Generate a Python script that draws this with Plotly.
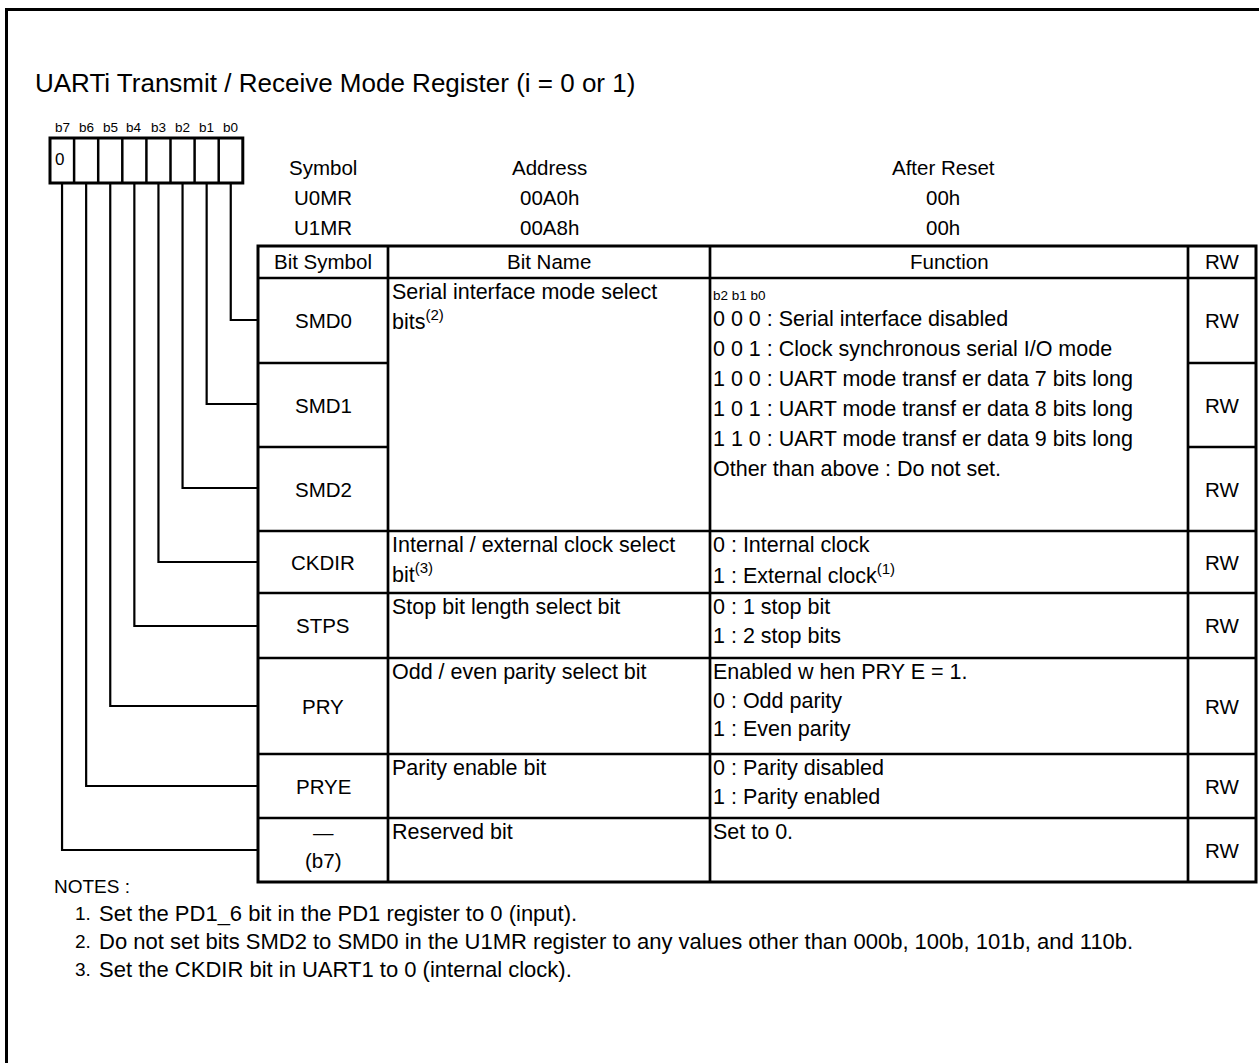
import plotly.graph_objects as go

# ---------------- data ----------------
title = "UARTi Transmit / Receive Mode Register (i = 0 or 1)"
bit_labels = ["b7", "b6", "b5", "b4", "b3", "b2", "b1", "b0"]
bit_values = ["0", "", "", "", "", "", "", ""]

reg_header = ["Symbol", "Address", "After Reset"]
reg_symbols = ["U0MR", "U1MR"]
reg_addresses = ["00A0h", "00A8h"]
reg_resets = ["00h", "00h"]

table_header = ["Bit Symbol", "Bit Name", "Function", "RW"]
bit_symbols = [["SMD0"], ["SMD1"], ["SMD2"], ["CKDIR"], ["STPS"], ["PRY"], ["PRYE"], ["\u2014", "(b7)"]]
rw = ["RW", "RW", "RW", "RW", "RW", "RW", "RW", "RW"]

# groups of rows sharing the Bit Name / Function cells (first row, row count)
groups = [(0, 3), (3, 1), (4, 1), (5, 1), (6, 1), (7, 1)]
bit_names = [
    ["Serial interface mode select", "bits<sup>(2)</sup>"],
    ["Internal / external clock select", "bit<sup>(3)</sup>"],
    ["Stop bit length select bit"],
    ["Odd / even parity select bit"],
    ["Parity enable bit"],
    ["Reserved bit"],
]
function_caption = ["b2 b1 b0", "", "", "", "", ""]
functions = [
    ["0 0 0 : Serial interface disabled",
     "0 0 1 : Clock synchronous serial I/O mode",
     "1 0 0 : UART mode transf er data 7 bits long",
     "1 0 1 : UART mode transf er data 8 bits long",
     "1 1 0 : UART mode transf er data 9 bits long",
     "Other than above : Do not set."],
    ["0 : Internal clock", "1 : External clock<sup>(1)</sup>"],
    ["0 : 1 stop bit", "1 : 2 stop bits"],
    ["Enabled w hen PRY E = 1.", "0 : Odd parity", "1 : Even parity"],
    ["0 : Parity disabled", "1 : Parity enabled"],
    ["Set to 0."],
]

notes_title = "NOTES :"
notes = [
    "Set the PD1_6 bit in the PD1 register to 0 (input).",
    "Do not set bits SMD2 to SMD0 in the U1MR register to any values other than 000b, 100b, 101b, and 110b.",
    "Set the CKDIR bit in UART1 to 0 (internal clock).",
]

# ---------------- geometry / style ----------------
W, H = 1259, 1063
FONT = "Liberation Sans, Arial, sans-serif"
BLACK = "#000000"
HDR = 20.5   # header / symbol texts
BODY = 21.5  # bit name / function texts

box_x0, box_w, box_y0, box_y1 = 50, 24.1, 138, 183
col_x = [258, 388, 710, 1188, 1256]
row_y = [278, 363, 447, 531, 593, 658, 754, 818, 882]
head_y0 = 246
conn_y = [320, 404, 488, 562, 626, 706, 786, 850]

shapes = []
ann = []


def line(x0, y0, x1, y1, w=2.5):
    shapes.append(dict(type="line", xref="x", yref="y", x0=x0, y0=y0, x1=x1, y1=y1,
                       line=dict(color=BLACK, width=w)))


def text(x, y, s, size=HDR, anchor="left"):
    ann.append(dict(x=x, y=y, xref="x", yref="y", text=s, showarrow=False,
                    xanchor=anchor, yanchor="middle",
                    font=dict(family=FONT, size=size, color=BLACK)))


# outer frame (top + left)
shapes.append(dict(type="path", xref="x", yref="y", path=f"M 6.5,{H} L 6.5,9.5 L {W},9.5",
                   line=dict(color=BLACK, width=3)))

# title
text(33, 83, title, size=26)

# bit boxes
nb = len(bit_labels)
shapes.append(dict(type="rect", xref="x", yref="y", x0=box_x0, x1=box_x0 + nb * box_w,
                   y0=box_y0, y1=box_y1, line=dict(color=BLACK, width=3)))
for i in range(1, nb):
    line(box_x0 + i * box_w, box_y0, box_x0 + i * box_w, box_y1, w=2.5)
for i, lab in enumerate(bit_labels):
    cx = box_x0 + (i + 0.5) * box_w
    text(cx, 127, lab, size=13.5, anchor="center")
    if bit_values[i]:
        text(box_x0 + 3, 159, bit_values[i], size=17)

# connectors: bit b0 -> first row, etc.
for k in range(nb):
    bit_index = nb - 1 - k  # b0 is the last box
    cx = box_x0 + (bit_index + 0.5) * box_w
    shapes.append(dict(type="path", xref="x", yref="y",
                       path=f"M {cx},{box_y1} L {cx},{conn_y[k]} L {col_x[0]},{conn_y[k]}",
                       line=dict(color=BLACK, width=2.2)))

# register symbol / address / reset
reg_cx = [323, 549, 943]
reg_cols = [reg_symbols, reg_addresses, reg_resets]
for j in range(3):
    text(reg_cx[j], 167, reg_header[j], anchor="center")
    for r in range(2):
        text(reg_cx[j], 197 + 30 * r, reg_cols[j][r], anchor="center")

# table frame
shapes.append(dict(type="rect", xref="x", yref="y", x0=col_x[0], x1=col_x[-1],
                   y0=head_y0, y1=row_y[-1], line=dict(color=BLACK, width=3)))
for cx in col_x[1:-1]:
    line(cx, head_y0, cx, row_y[-1], w=2.7)
line(col_x[0], row_y[0], col_x[-1], row_y[0], w=2.7)
group_starts = {g[0] for g in groups}
for r in range(1, len(row_y) - 1):
    if r in group_starts:
        line(col_x[0], row_y[r], col_x[-1], row_y[r], w=2.7)
    else:
        line(col_x[0], row_y[r], col_x[1], row_y[r], w=2.7)
        line(col_x[3], row_y[r], col_x[4], row_y[r], w=2.7)

# header
for j, h in enumerate(table_header):
    text((col_x[j] + col_x[j + 1]) / 2, 261, h, anchor="center")

# per-row symbol and RW
for r in range(len(bit_symbols)):
    top, bot = row_y[r], row_y[r + 1]
    mid = (top + bot) / 2
    sym = bit_symbols[r]
    if len(sym) == 1:
        text((col_x[0] + col_x[1]) / 2, mid, sym[0], anchor="center")
    else:
        text((col_x[0] + col_x[1]) / 2, top + 14, sym[0], anchor="center")
        text((col_x[0] + col_x[1]) / 2, top + 42, sym[1], anchor="center")
    text((col_x[3] + col_x[4]) / 2, mid, rw[r], anchor="center")

# bit names and functions
for g, (r0, n) in enumerate(groups):
    top = row_y[r0]
    for i, s in enumerate(bit_names[g]):
        text(col_x[1] + 2, top + 14 + 28 * i, s, size=BODY)
    if function_caption[g]:
        text(col_x[2] + 1, top + 17, function_caption[g], size=13.5)
        for i, s in enumerate(functions[g]):
            text(col_x[2] + 1, top + 41 + 30 * i, s, size=BODY)
    else:
        for i, s in enumerate(functions[g]):
            text(col_x[2] + 1, top + 14 + 28.5 * i, s, size=BODY)

# notes
text(52, 886, notes_title, size=19)
for i, s in enumerate(notes):
    y = 913 + 28 * i
    text(73, y, f"{i + 1}.", size=19)
    text(97, y, s, size=22)

fig = go.Figure()
fig.update_layout(
    width=W, height=H, margin=dict(l=0, r=0, t=0, b=0),
    paper_bgcolor="white", plot_bgcolor="white", showlegend=False,
    xaxis=dict(range=[0, W], visible=False, fixedrange=True),
    yaxis=dict(range=[H, 0], visible=False, fixedrange=True),
    shapes=shapes, annotations=ann,
)
fig.write_html("out.html", config={"displayModeBar": False},
               post_script="document.body.style.margin='0';document.body.style.overflow='hidden';")
